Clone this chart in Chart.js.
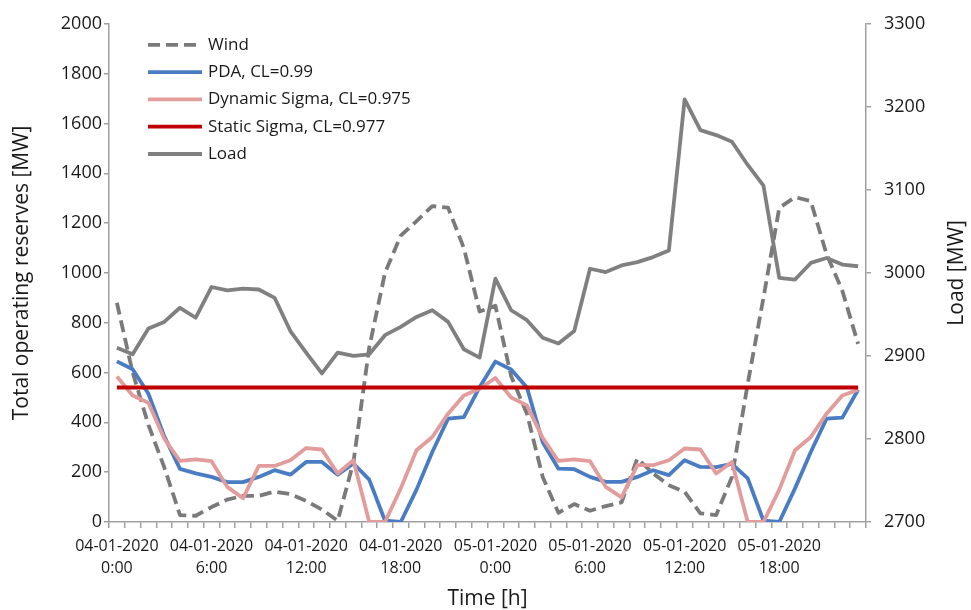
<!DOCTYPE html>
<html>
<head>
<meta charset="utf-8">
<script src="https://cdn.jsdelivr.net/npm/chart.js@4.4.1/dist/chart.umd.min.js"></script>
<style>
  html, body { margin: 0; padding: 0; background: #ffffff; }
  canvas { display: block; }
</style>
</head>
<body>
<canvas id="chart" width="971" height="610"></canvas>
<script>
// Hourly time axis over two days
const days = ['04-01-2020', '05-01-2020'];
const hours = ['0:00', '1:00', '2:00', '3:00', '4:00', '5:00', '6:00', '7:00',
  '8:00', '9:00', '10:00', '11:00', '12:00', '13:00', '14:00', '15:00',
  '16:00', '17:00', '18:00', '19:00', '20:00', '21:00', '22:00', '23:00'];
const categories = days.flatMap(d => hours.map(h => d + ' ' + h));
const labelEvery = 6;

// Wind production [MW] (left axis)
const wind = [880, 600, 390, 220, 28, 25, 60, 90, 105, 105, 122, 112,
  85, 50, 5, 240, 700, 1000, 1150, 1208, 1268, 1262, 1100, 845,
  868, 585, 435, 181, 37, 72, 45, 64, 79, 255, 195, 148,
  121, 35, 28, 181, 555, 901, 1261, 1304, 1288, 1075, 928, 715];

// Total operating reserves [MW] (left axis)
const pda = [645, 613, 515, 345, 213, 195, 181, 160, 160, 181, 208, 190,
  241, 241, 190, 235, 170, 5, 0, 130, 281, 415, 421, 541,
  644, 612, 540, 320, 214, 212, 181, 161, 161, 181, 208, 188,
  248, 221, 220, 233, 175, 5, 0, 135, 281, 415, 419, 531];

const dynamicSigma = [584, 508, 479, 335, 245, 251, 244, 141, 95, 225, 225, 248,
  297, 291, 195, 248, 0, 0, 135, 288, 341, 435, 508, 535,
  578, 500, 468, 338, 245, 251, 244, 141, 99, 228, 228, 248,
  295, 291, 195, 241, 0, 0, 130, 288, 341, 435, 508, 531];

const staticSigma = [540, 540, 540, 540, 540, 540, 540, 540, 540, 540, 540, 540,
  540, 540, 540, 540, 540, 540, 540, 540, 540, 540, 540, 540,
  540, 540, 540, 540, 540, 540, 540, 540, 540, 540, 540, 540,
  540, 540, 540, 540, 540, 540, 540, 540, 540, 540, 540, 540];

// System load [MW] (right axis)
const load = [2910, 2902, 2933, 2941, 2958, 2946, 2983, 2979, 2981, 2980, 2970, 2930,
  2904, 2879, 2904, 2900, 2902, 2925, 2935, 2947, 2955, 2941, 2908, 2898,
  2993, 2955, 2943, 2922, 2915, 2930, 3005, 3001, 3009, 3013, 3019, 3027,
  3209, 3172, 3166, 3158, 3130, 3105, 2994, 2992, 3012, 3018, 3010, 3008];

const FONT = "'Open Sans', 'Noto Sans', sans-serif";
const AXIS = '#a0a0a0';
const TEXT = '#1a1a1a';

// Legend drawn inside the plot area, one row per series
const insideLegend = {
  id: 'insideLegend',
  afterDraw(chart, args, opts) {
    const { ctx, chartArea } = chart;
    ctx.save();
    ctx.font = opts.font;
    ctx.textBaseline = 'middle';
    ctx.textAlign = 'left';
    chart.data.datasets.forEach((ds, i) => {
      const x = chartArea.left + opts.offsetX;
      const y = chartArea.top + opts.offsetY + i * opts.rowHeight;
      ctx.beginPath();
      ctx.strokeStyle = ds.borderColor;
      ctx.lineWidth = ds.borderWidth;
      ctx.lineCap = 'butt';
      ctx.setLineDash(ds.borderDash || []);
      ctx.moveTo(x, y);
      ctx.lineTo(x + opts.lineLength, y);
      ctx.stroke();
      ctx.setLineDash([]);
      ctx.fillStyle = opts.color;
      ctx.fillText(ds.label, x + opts.lineLength + opts.gap, y);
    });
    ctx.restore();
  }
};

// Right-hand axis title, reading bottom to top like the left one
const rightTitle = {
  id: 'rightTitle',
  afterDraw(chart, args, opts) {
    const { ctx, chartArea } = chart;
    ctx.save();
    ctx.translate(chart.width - opts.inset, (chartArea.top + chartArea.bottom) / 2);
    ctx.rotate(-Math.PI / 2);
    ctx.font = opts.font;
    ctx.fillStyle = opts.color;
    ctx.textAlign = 'center';
    ctx.textBaseline = 'middle';
    ctx.fillText(opts.text, 0, 0);
    ctx.restore();
  }
};

const lineStyle = { pointRadius: 0, pointHoverRadius: 0, tension: 0, fill: false, borderJoinStyle: 'round' };
const plain = v => String(v);

new Chart(document.getElementById('chart'), {
  type: 'line',
  data: {
    labels: categories,
    datasets: [
      { label: 'Wind', data: wind, yAxisID: 'y', borderColor: '#7a7a7a', borderWidth: 3.8,
        borderDash: [12, 6], order: 5, ...lineStyle },
      { label: 'PDA, CL=0.99', data: pda, yAxisID: 'y', borderColor: '#4a7cc4', borderWidth: 3.8,
        order: 4, ...lineStyle },
      { label: 'Dynamic Sigma, CL=0.975', data: dynamicSigma, yAxisID: 'y', borderColor: '#e39c9c', borderWidth: 3.8,
        order: 3, ...lineStyle },
      { label: 'Static Sigma, CL=0.977', data: staticSigma, yAxisID: 'y', borderColor: '#c00000', borderWidth: 3.8,
        order: 2, ...lineStyle },
      { label: 'Load', data: load, yAxisID: 'y1', borderColor: '#808080', borderWidth: 3.8,
        order: 1, ...lineStyle }
    ]
  },
  options: {
    responsive: false,
    animation: false,
    events: [],
    layout: { padding: { top: 20, left: 0, right: 0, bottom: 0 } },
    plugins: {
      legend: { display: false },
      tooltip: { enabled: false },
      insideLegend: {
        offsetX: 39, offsetY: 21, rowHeight: 27.3, lineLength: 54, gap: 6,
        font: "17px " + FONT, color: TEXT
      },
      rightTitle: { text: 'Load [MW]', inset: 14, font: "21px " + FONT, color: TEXT }
    },
    scales: {
      x: {
        type: 'category',
        offset: true,
        grid: { display: true, drawOnChartArea: false, drawTicks: true, tickLength: 6, color: AXIS, lineWidth: 1.5, offset: true },
        border: { display: true, color: AXIS, width: 1.5 },
        ticks: {
          autoSkip: false, maxRotation: 0, minRotation: 0, padding: 7, color: TEXT,
          font: { family: FONT, size: 16, lineHeight: 1.4 },
          callback(value, index) {
            return index % labelEvery === 0 ? this.getLabelForValue(value).split(' ') : '';
          }
        },
        title: { display: true, text: 'Time [h]', color: TEXT, font: { family: FONT, size: 21, lineHeight: 1.0 }, padding: { top: 0, bottom: 0 } },
        afterFit(scale) { scale.height = 88; }
      },
      y: {
        position: 'left',
        min: 0, max: 2000,
        grid: { display: true, drawOnChartArea: false, drawTicks: true, tickLength: 5, color: AXIS, lineWidth: 1.5 },
        border: { display: true, color: AXIS, width: 1.5 },
        ticks: { stepSize: 200, padding: 2, color: TEXT, font: { family: FONT, size: 18 }, callback: plain },
        title: { display: true, text: 'Total operating reserves [MW]', color: TEXT, font: { family: FONT, size: 21, lineHeight: 1.2 }, padding: { top: 9, bottom: 0 } },
        afterFit(scale) { scale.width = 109; }
      },
      y1: {
        position: 'right',
        min: 2700, max: 3300,
        grid: { display: true, drawOnChartArea: false, drawTicks: true, tickLength: 5, color: AXIS, lineWidth: 1.5 },
        border: { display: true, color: AXIS, width: 1.5 },
        ticks: { stepSize: 100, padding: 13, color: TEXT, font: { family: FONT, size: 18 }, callback: plain },
        title: { display: false },
        afterFit(scale) { scale.width = 105; }
      }
    }
  },
  plugins: [insideLegend, rightTitle]
});
</script>
</body>
</html>
